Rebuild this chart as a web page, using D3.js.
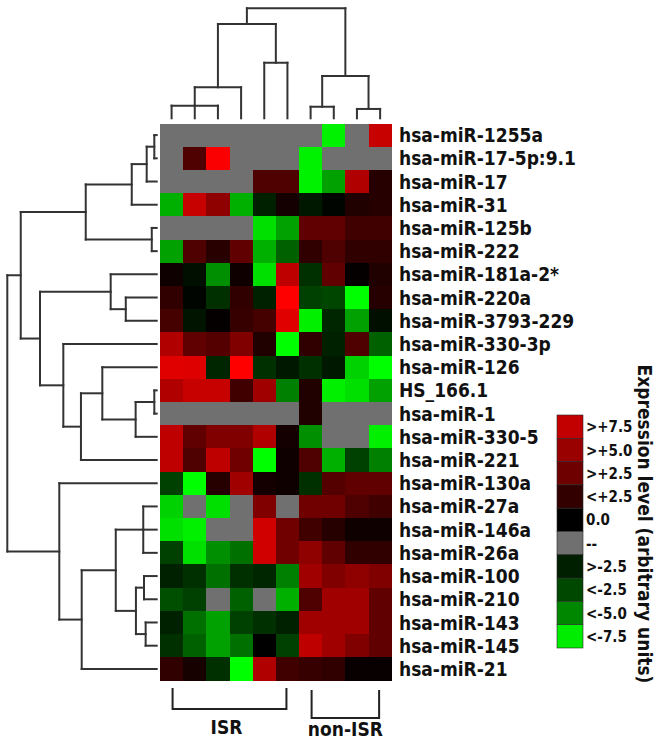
<!DOCTYPE html>
<html>
<head>
<meta charset="utf-8">
<script src="https://cdn.jsdelivr.net/npm/d3@7"></script>
<style>
  html, body { margin: 0; padding: 0; background: #ffffff; }
  svg { display: block; }
  text { font-family: "DejaVu Sans", Verdana, sans-serif; font-weight: bold; fill: #111; }
</style>
</head>
<body>
<div id="chart"></div>
<script>
// ---------------- data ----------------
const rowLabels = [
  "hsa-miR-1255a", "hsa-miR-17-5p:9.1", "hsa-miR-17", "hsa-miR-31", "hsa-miR-125b",
  "hsa-miR-222", "hsa-miR-181a-2*", "hsa-miR-220a", "hsa-miR-3793-229", "hsa-miR-330-3p",
  "hsa-miR-126", "HS_166.1", "hsa-miR-1", "hsa-miR-330-5", "hsa-miR-221",
  "hsa-miR-130a", "hsa-miR-27a", "hsa-miR-146a", "hsa-miR-26a", "hsa-miR-100",
  "hsa-miR-210", "hsa-miR-143", "hsa-miR-145", "hsa-miR-21"
];
const sampleIds = ["S1", "S2", "S3", "S4", "S5", "S6", "S7", "S8", "S9", "S10"];

// expression values per miRNA (null = missing, shown grey)
const values = [
  [null, null, null, null, null, null, null, -9.5, null, 7.8],
  [null, 3.1, 9.8, null, null, null, -9.5, null, null, null],
  [null, null, null, null, 3.1, 3.1, -9.5, -6.3, 6.9, 1.5],
  [-6.9, 7.8, 5.6, -6.9, -1.3, 0.8, -0.9, -0.2, 1.3, 1.5],
  [null, null, null, null, -8.8, -6.3, 3.8, 3.8, 2.5, 2.5],
  [-6.3, 3.1, 1.6, 3.8, -6.9, -3.8, 1.9, 3.1, 1.9, 1.9],
  [0.6, -0.6, -5.6, 0.6, -8.8, 7.5, -1.9, 3.8, 0.2, 1.3],
  [1.9, -0.2, -1.9, 1.9, -1.3, 10, -2.5, -2.7, -10, 1.5],
  [2.7, -0.8, 0.2, 2.1, 2.7, 8.8, -9.4, -1.5, -6.3, -0.6],
  [6.9, 3.8, 3.3, 5.0, 1.3, -10, 1.9, -1.3, 3.1, -3.8],
  [8.8, 8.7, -1.5, 10, -1.9, -0.9, -1.9, -0.9, -8.2, -10],
  [6.9, 7.8, 7.8, 2.5, 6.3, -5.0, 1.3, -9.4, -8.8, -6.3],
  [null, null, null, null, null, null, 1.3, null, null, null],
  [7.5, 3.8, 5.0, 5.0, 6.9, 0.8, -5.6, null, null, -9.4],
  [7.5, 3.1, 7.5, 4.4, -10, 0.6, 3.1, -6.9, -2.5, -5.0],
  [-2.5, -10, 1.5, 6.3, 0.8, 0.6, -1.9, 3.3, 3.8, 3.8],
  [-8.2, null, -8.8, null, 5.0, null, 4.4, 4.4, 3.1, 2.5],
  [-8.8, -9.4, null, null, 8.2, 4.4, 2.5, 1.5, 0.6, 0.6],
  [-2.5, -8.8, -5.6, -4.4, 8.2, 4.4, 5.6, 3.8, 1.9, 1.9],
  [-1.3, -1.9, -4.4, -1.9, -1.5, -5.0, 6.3, 5.0, 5.6, 5.0],
  [-3.1, -2.5, null, -3.8, null, -6.9, 3.1, 6.3, 6.3, 3.8],
  [-1.3, -4.4, -6.3, -2.5, -1.9, -1.3, 6.3, 6.3, 6.3, 3.8],
  [-1.9, -3.8, -6.3, -4.4, 0, -2.5, 7.5, 6.3, 5.0, 3.8],
  [1.9, 0.9, -1.9, -10, 6.9, 2.5, 2.1, 1.9, 0.3, 0.3]
];

// dendrograms: [height, child, child, ...]; leaves are indices
const colTree = [1.0,
  [0.857, [0.282, [0.115, 0, 1, 2], 3], [0.505, 4, 5]],
  [0.385, [0.105, 6, 7], [0.085, 8, 9]]
];
const rowTree = [1.0,
  [0.910,
    [0.475, [0.167, [0.067, [0.016, 0, 1], 2], 3], [0.033, 4, 5]],
    [0.781, [0.308, 6, [0.207, 7, 8]],
            [0.625, 9, [0.507, [0.364, 10, [0.141, [0.016, 11, 12], 13]], 14]]]
  ],
  [0.652, 15, [0.502, [0.274, [0.090, 16, 17, 18], [0.139, [0.085, 19, 20], [0.074, 21, 22]]], 23]]
];

const groupNames = ["ISR", "non-ISR"];
const groupStart = [0, 6];
const groupEnd = [5, 9];

const legendLabels = [">+7.5", ">+5.0", ">+2.5", "<+2.5", "0.0", "--", ">-2.5", "<-2.5", "<-5.0", "<-7.5"];
const legendValues = [7.6, 6.0, 4.3, 2.0, 0, null, -1.2, -2.8, -5.3, -9.3];
const legendTitle = "Expression level (arbitrary units)";

// ---------------- drawing ----------------
const W = 664, H = 743;
const svg = d3.select("#chart").append("svg").attr("width", W).attr("height", H);

const x = d3.scaleBand().domain(d3.range(sampleIds.length)).range([160, 391.7]).padding(0);
const y = d3.scaleBand().domain(d3.range(rowLabels.length)).range([123.5, 680.5]).padding(0);

const color = d3.scaleLinear().domain([-10, 0, 10]).range(["#00ff00", "#000000", "#ff0000"]).clamp(true);
const missing = "#707070";
const fill = v => (v === null ? missing : color(v));
const SX = 0.9; // horizontal squeeze of the labels' bold face

// heatmap cells
const cells = [];
values.forEach((row, i) => row.forEach((v, j) => cells.push({ i, j, v })));
svg.append("g").selectAll("rect").data(cells).join("rect")
  .attr("x", d => x(d.j))
  .attr("y", d => y(d.i))
  .attr("width", x.bandwidth() + 0.5)
  .attr("height", y.bandwidth() + 0.5)
  .attr("fill", d => fill(d.v))
  .attr("shape-rendering", "crispEdges");

// row labels
svg.append("g").selectAll("text").data(rowLabels).join("text")
  .attr("transform", (d, i) => `translate(399,${y(i) + y.bandwidth() / 2}) scale(${SX},1)`)
  .attr("dy", "0.37em")
  .attr("font-size", 19)
  .text(d => d);

// dendrogram helper
function buildTree(node) {
  if (typeof node === "number") return { leaf: node, h: 0 };
  const [h, ...kids] = node;
  return { h, children: kids.map(buildTree) };
}
function layout(n, leafPos) {
  if (n.children) {
    n.children.forEach(c => layout(c, leafPos));
    n.pos = d3.mean(n.children, c => c.pos);
  } else {
    n.pos = leafPos(n.leaf);
  }
  return n;
}
function segments(n, out) {
  if (!n.children) return out;
  const ps = n.children.map(c => c.pos);
  out.push({ a: d3.min(ps), b: d3.max(ps), h1: n.h, h2: n.h });
  n.children.forEach(c => {
    out.push({ a: c.pos, b: c.pos, h1: c.h, h2: n.h });
    segments(c, out);
  });
  return out;
}
const lineStyle = sel => sel.attr("stroke", "#333").attr("stroke-width", 2).attr("fill", "none").attr("stroke-linecap", "square");

// column dendrogram (top)
const colH = d3.scaleLinear().domain([0, 1]).range([118.3, 8.3]);
const colRoot = layout(buildTree(colTree), j => x(j) + x.bandwidth() / 2);
svg.append("g").selectAll("line").data(segments(colRoot, [])).join("line")
  .attr("x1", d => d.a).attr("x2", d => d.b)
  .attr("y1", d => colH(d.h1)).attr("y2", d => colH(d.h2))
  .call(lineStyle);

// row dendrogram (left)
const rowH = d3.scaleLinear().domain([0, 1]).range([156.7, 7.3]);
const rowRoot = layout(buildTree(rowTree), i => y(i) + y.bandwidth() / 2);
svg.append("g").selectAll("line").data(segments(rowRoot, [])).join("line")
  .attr("y1", d => d.a).attr("y2", d => d.b)
  .attr("x1", d => rowH(d.h1)).attr("x2", d => rowH(d.h2))
  .call(lineStyle);

// group brackets
const bracketTop = [688, 690];
const bracketBottom = [709, 718];
const labelBase = [734, 736];
const gb = svg.append("g");
groupNames.forEach((g, k) => {
  const x0 = x(groupStart[k]) + x.bandwidth() / 2 + 1;
  const x1 = x(groupEnd[k]) + x.bandwidth() / 2 - 1;
  gb.append("path")
    .attr("d", `M${x0},${bracketTop[k]}V${bracketBottom[k]}H${x1}V${bracketTop[k]}`)
    .attr("stroke", "#222").attr("stroke-width", 2).attr("fill", "none");
  gb.append("text")
    .attr("transform", `translate(${(x0 + x1) / 2 - (k === 0 ? 3 : 0)},${labelBase[k]}) scale(${SX},1)`)
    .attr("text-anchor", "middle")
    .attr("font-size", 19)
    .text(g);
});

// legend
const ly = d3.scaleBand().domain(d3.range(legendLabels.length)).range([415, 648]);
const lg = svg.append("g");
lg.selectAll("rect").data(legendValues).join("rect")
  .attr("x", 557).attr("y", (d, i) => ly(i))
  .attr("width", 26).attr("height", ly.bandwidth())
  .attr("fill", d => fill(d))
  .attr("stroke", "#2a2a2a").attr("stroke-width", 0.6);
lg.selectAll("text").data(legendLabels).join("text")
  .attr("transform", (d, i) => `translate(586,${ly(i) + ly.bandwidth() / 2}) scale(${SX},1)`)
  .attr("dy", "0.37em")
  .attr("font-size", 15)
  .text(d => d);

svg.append("text")
  .attr("transform", `translate(638,524) rotate(90) scale(${SX},1)`)
  .attr("text-anchor", "middle")
  .attr("font-size", 19)
  .text(legendTitle);
</script>
</body>
</html>
